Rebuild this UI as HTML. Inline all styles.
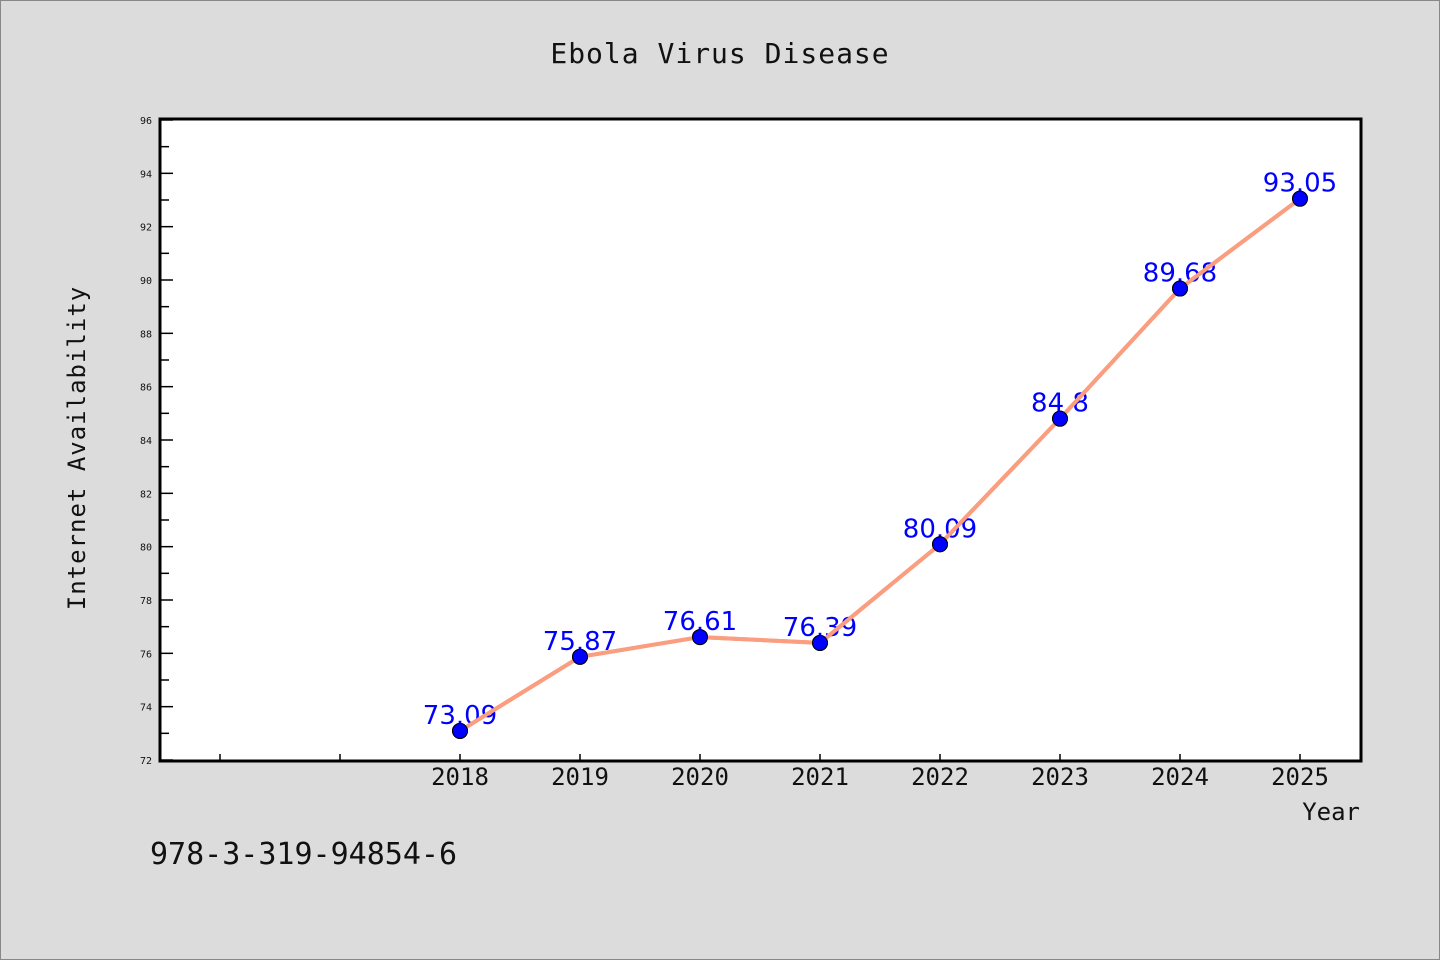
<!DOCTYPE html>
<html><head><meta charset="utf-8"><style>
html,body{margin:0;padding:0;background:#dcdcdc;}
svg{display:block;font-family:"DejaVu Sans Mono","Liberation Mono",monospace;}
</style></head><body>
<svg width="1440" height="960">
<rect x="0.5" y="0.5" width="1439" height="959" fill="#dcdcdc" stroke="#888"/>
<text x="720" y="63" text-anchor="middle" font-size="28" fill="#111" letter-spacing="1">Ebola Virus Disease</text>
<rect x="160" y="119" width="1201" height="642" fill="#fff"/>
<g id="axes"></g>
<g id="marks"></g>
<rect x="160" y="119" width="1201" height="642" fill="none" stroke="#000" stroke-width="3"/>
<text transform="translate(85,448) rotate(-90)" text-anchor="middle" font-size="24" fill="#111" letter-spacing="1">Internet Availability</text>
<text x="1360" y="820" text-anchor="end" font-size="24" fill="#111">Year</text>
<text x="150" y="864" font-size="30" fill="#111">978-3-319-94854-6</text>
</svg>
<script>
const years=[2018,2019,2020,2021,2022,2023,2024,2025];
const values=[73.09,75.87,76.61,76.39,80.09,84.8,89.68,93.05];
const valueLabels=["73.09","75.87","76.61","76.39","80.09","84.8","89.68","93.05"];
const yTicks=[72,74,76,78,80,82,84,86,88,90,92,94,96];
const xTicks=[2016,2017,2018,2019,2020,2021,2022,2023,2024,2025];
const NS="http://www.w3.org/2000/svg";
const X=v=>160+(v-2015.5)*120;
const Y=v=>760-(v-72)*(640/24);
function mk(t,a,p){const e=document.createElementNS(NS,t);for(const k in a)e.setAttribute(k,a[k]);p.appendChild(e);return e;}
const ax=document.getElementById('axes'),mg=document.getElementById('marks');
for(let v=72;v<=96;v++){
 const major=v%2===0;
 const l=mk('line',{x1:160,x2:160+(major?13:9),y1:Y(v),y2:Y(v),stroke:'#000','stroke-width':1.5},ax);
 
 
}
yTicks.forEach(v=>{
 const t=mk('text',{x:152,y:Y(v)+4,'text-anchor':'end','font-size':10,fill:'#111'},ax);
 t.textContent=v;
 
 
});
xTicks.forEach(v=>{
 const l=mk('line',{x1:X(v),x2:X(v),y1:760,y2:754,stroke:'#000','stroke-width':1.5},ax);
 
 
 if(years.includes(v)){
  const t=mk('text',{x:X(v),y:785,'text-anchor':'middle','font-size':24,fill:'#111'},ax);
  t.textContent=v;
  
  
 }
});
const pl=mk('polyline',{points:years.map((y,i)=>X(y)+','+Y(values[i])).join(' '),fill:'none',stroke:'#fa9e7f','stroke-width':4,'stroke-linejoin':'round'},mg);


years.forEach((y,i)=>{
 const c=mk('circle',{cx:X(y),cy:Y(values[i]),r:7.5,fill:'#0000ff',stroke:'#000','stroke-width':1},mg);
 
 
});
years.forEach((y,i)=>{
 const t=mk('text',{x:X(y),y:Y(values[i])-7,'text-anchor':'middle','font-size':26,fill:'#0000ff','font-family':'"DejaVu Sans","Liberation Sans",sans-serif'},mg);
 t.textContent=valueLabels[i];
 
 
});
// redraw line segments over labels partially like reference
const pl2=mk('polyline',{points:years.map((y,i)=>X(y)+','+Y(values[i])).join(' '),fill:'none',stroke:'#fa9e7f','stroke-width':4,'stroke-linejoin':'round'},mg);


years.forEach((y,i)=>{
 const c=mk('circle',{cx:X(y),cy:Y(values[i]),r:7.5,fill:'#0000ff',stroke:'#000','stroke-width':1},mg);
 
 
});
</script>
</body></html>
